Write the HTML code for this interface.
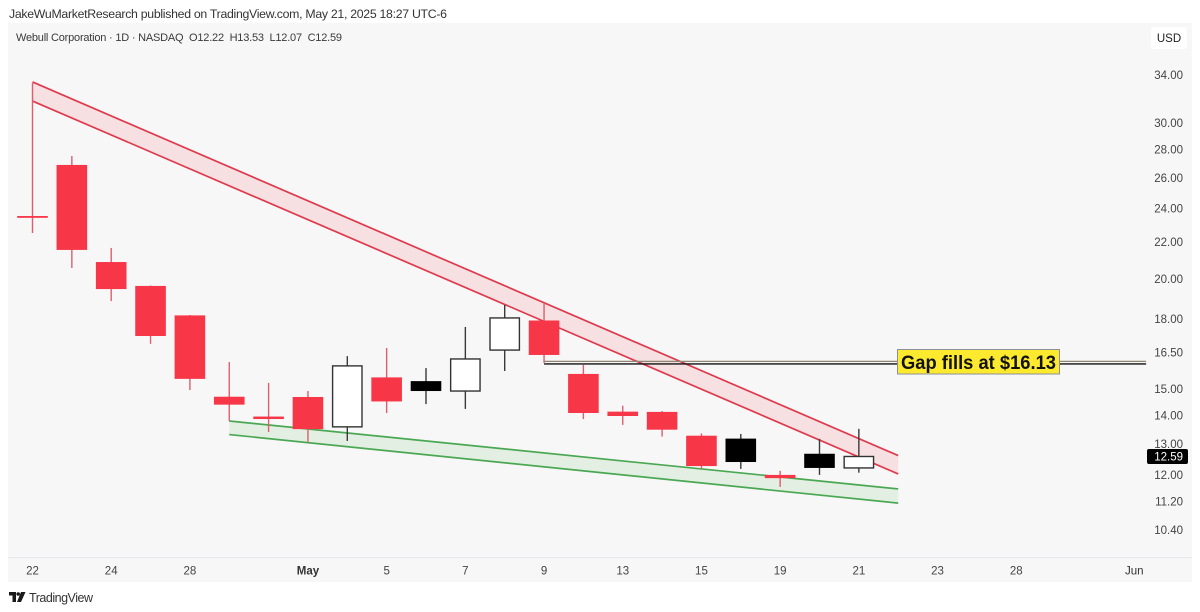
<!DOCTYPE html>
<html lang="en">
<head>
<meta charset="utf-8">
<title>Webull Corporation Chart</title>
<style>
html,body{margin:0;padding:0;background:#fff;width:1200px;height:612px;overflow:hidden}
svg{display:block;font-family:"Liberation Sans",sans-serif}
</style>
</head>
<body>
<svg id="chart" xmlns="http://www.w3.org/2000/svg" width="1200" height="612" viewBox="0 0 1200 612">
  <rect x="0" y="0" width="1200" height="612" fill="#ffffff"/>
  <text x="9" y="18" font-size="12.3" fill="#333333" textLength="438" lengthAdjust="spacing">JakeWuMarketResearch published on TradingView.com, May 21, 2025 18:27 UTC-6</text>
  <rect x="8" y="23" width="1184" height="559" fill="#f7f7f7"/>
  <line x1="8" y1="557.5" x2="1192" y2="557.5" stroke="#e8e9ee" stroke-width="1"/>
  <text x="16" y="41" font-size="11" fill="#3a3a3a" textLength="326" lengthAdjust="spacing" xml:space="preserve">Webull Corporation · 1D · NASDAQ  O12.22  H13.53  L12.07  C12.59</text>
  <g id="drawings"></g>
  <g id="candles"></g>
  <g id="annotation">
    <rect x="897.5" y="349.5" width="162" height="24.5" fill="#fdea2f" stroke="#8a9099" stroke-width="1"/>
    <text x="901" y="369" font-size="19" font-weight="700" fill="#111111" textLength="155" lengthAdjust="spacingAndGlyphs">Gap fills at $16.13</text>
  </g>
  <g id="price-axis"></g>
  <g id="time-axis"></g>
  <rect x="1151" y="27" width="36" height="22" rx="3" fill="#ffffff"/>
  <text x="1169" y="42" font-size="11.5" fill="#222222" text-anchor="middle">USD</text>
  <g fill="#1a1a1a">
    <polygon points="9,592 16,592 16,602 12.5,602 12.5,595.5 9,595.5"/>
    <circle cx="18.2" cy="594" r="1.8"/>
    <polygon points="21,592 25.5,592 21,602 17,602"/>
  </g>
  <text x="29" y="602" font-size="12.5" fill="#333333" textLength="64" lengthAdjust="spacing">TradingView</text>
</svg>
<script>
// Daily bars
var barDates = ["Apr 22","Apr 23","Apr 24","Apr 25","Apr 28","Apr 29","Apr 30","May 1","May 2","May 5","May 6","May 7","May 8","May 9","May 12","May 13","May 14","May 15","May 16","May 19","May 20","May 21"];
var opens  = [23.55,26.90,20.89,19.63,18.18,14.71,13.97,14.70,13.60,15.47,15.32,14.93,16.61,17.94,15.61,14.15,14.14,13.29,13.19,12.00,12.68,12.22];
var highs  = [33.30,27.53,21.67,19.65,18.20,16.10,15.25,14.93,16.35,16.70,15.85,17.64,18.68,18.78,15.98,14.37,14.17,13.37,13.35,12.13,13.18,13.53];
var lows   = [22.53,20.57,18.87,16.88,14.97,13.81,13.42,13.07,13.11,14.10,14.43,14.25,15.73,16.06,13.88,13.67,13.26,12.19,12.19,11.63,12.00,12.07];
var closes = [23.55,21.56,19.47,17.23,15.41,14.41,13.88,13.52,15.94,14.53,14.93,16.23,18.06,16.40,14.10,13.99,13.50,12.28,12.41,11.90,12.22,12.59];

// Axis labels
var priceTicks = [34,30,28,26,24,22,20,18,16.5,15,14,13,12,11.2,10.4];
var timeTickLabels = ["22","24","28","May","5","7","9","13","15","19","21","23","28","Jun"];
var timeTickBars = [0,2,4,7,9,11,13,15,17,19,21,23,25,28];
var lastPrice = 12.59;

// Drawings: trend channels (bar index / price anchors) and gap level
var redChannelBars = [0,22];
var redChannelUpper = [33.39,12.62];
var redChannelLower = [31.77,12.03];
var greenChannelBars = [5,22];
var greenChannelUpper = [13.81,11.57];
var greenChannelLower = [13.33,11.15];
var gapBars = [13,28.3];
var gapLevelUpper = 16.13;
var gapLevelLower = 16.02;

// Axis functions
function xScale(i){ return 32.5 + i * 39.35; }
function yScale(p){ return 75 + 384 * Math.log(34 / p); }

var NS = "http://www.w3.org/2000/svg";
function mk(parent, tag, attrs){
  var el = document.createElementNS(NS, tag);
  for (var k in attrs) el.setAttribute(k, attrs[k]);
  parent.appendChild(el);
  return el;
}

var drawings = document.getElementById("drawings");
function channel(bars, upper, lower, fill, stroke, label){
  var x0 = xScale(bars[0]), x1 = xScale(bars[1]);
  var band = mk(drawings, "polygon", {
    points: [x0+","+yScale(upper[0]), x1+","+yScale(upper[1]), x1+","+yScale(lower[1]), x0+","+yScale(lower[0])].join(" "),
    fill: fill
  });
  
  
  var top = mk(drawings, "line", {x1:x0, y1:yScale(upper[0]), x2:x1, y2:yScale(upper[1]), stroke:stroke, "stroke-width":1.7});
  
  
  var bottom = mk(drawings, "line", {x1:x0, y1:yScale(lower[0]), x2:x1, y2:yScale(lower[1]), stroke:stroke, "stroke-width":1.7});
  
  
}
channel(redChannelBars, redChannelUpper, redChannelLower, "#f6e0e2", "#df3a4d", "red");
channel(greenChannelBars, greenChannelUpper, greenChannelLower, "#e2efe2", "#4aa852", "green");

var candles = document.getElementById("candles");
barDates.forEach(function(date, i){
  var o = opens[i], c = closes[i], h = highs[i], l = lows[i];
  var rising = c > o;
  var prev = i > 0 ? closes[i-1] : o;
  var color = rising ? "white" : (c > prev ? "black" : "red");
  var cx = xScale(i);
  var wickColor = color === "red" ? "#dc5f6f" : "#3a3a3a";
  var wick = mk(candles, "line", {x1:cx, y1:yScale(h), x2:cx, y2:yScale(l), stroke:wickColor, "stroke-width":1.4});
  
  
  var top = yScale(Math.max(o, c)), bot = yScale(Math.min(o, c));
  var attrs = {x:cx-15.3, y:top, width:30.6, height:Math.max(bot-top, 1.8)};
  if (color === "white") { attrs.x = cx-14.7; attrs.width = 29.4; attrs.fill = "#ffffff"; attrs.stroke = "#333333"; attrs["stroke-width"] = 1.4; }
  else if (color === "black") { attrs.fill = "#000000"; }
  else { attrs.fill = "#f73648"; }
  var body = mk(candles, "rect", attrs);
  
  
});

var annotation = document.getElementById("annotation");
var gapBox = annotation.firstElementChild;
var gapUp = mk(annotation, "line", {x1:xScale(gapBars[0]), y1:yScale(gapLevelUpper), x2:xScale(gapBars[1]), y2:yScale(gapLevelUpper), stroke:"#8f8672", "stroke-width":1.2});


var gapLow = mk(annotation, "line", {x1:xScale(gapBars[0]), y1:yScale(gapLevelLower), x2:xScale(gapBars[1]), y2:yScale(gapLevelLower), stroke:"#111111", "stroke-width":1.4});


annotation.insertBefore(gapUp, gapBox);
annotation.insertBefore(gapLow, gapBox);

var priceAxis = document.getElementById("price-axis");
priceTicks.forEach(function(p){
  var t = mk(priceAxis, "text", {x:1183, y:yScale(p)+4, "font-size":11.5, fill:"#444444", "text-anchor":"end"});
  t.textContent = p.toFixed(2);
  
  
});
var tag = mk(priceAxis, "rect", {x:1147, y:yScale(lastPrice)-7.5, width:41, height:15, rx:2, fill:"#000000"});


var tagText = mk(priceAxis, "text", {x:1183, y:yScale(lastPrice)+4, "font-size":11.5, fill:"#ffffff", "text-anchor":"end"});
tagText.textContent = lastPrice.toFixed(2);



var timeAxis = document.getElementById("time-axis");
timeTickLabels.forEach(function(label, i){
  var isMonth = label === "May" || label === "Jun";
  var t = mk(timeAxis, "text", {x:xScale(timeTickBars[i]), y:574.5, "font-size":11.5, fill:isMonth ? "#333333" : "#444444", "text-anchor":"middle", "font-weight":label === "May" ? 700 : 400});
  t.textContent = label;
  
  
});
</script>
</body>
</html>
